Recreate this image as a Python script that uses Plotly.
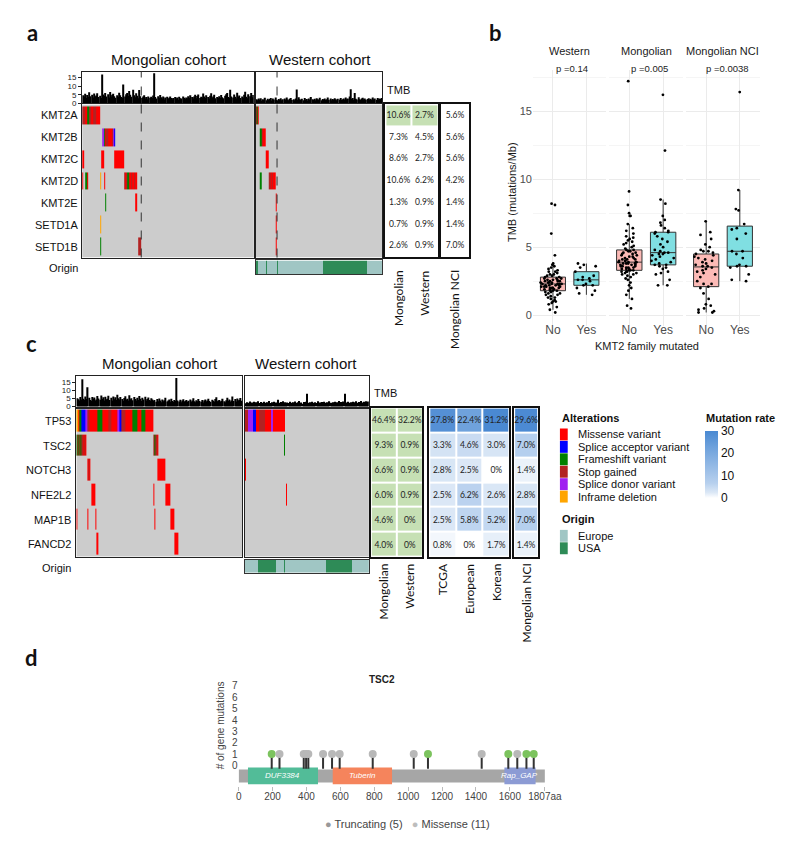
import plotly.graph_objects as go

W, H = 800, 843
def X(p): return p / W
def Y(p): return 1 - p / H

FONT = "Liberation Sans, Arial, sans-serif"
CAL = "Lato, Open Sans, sans-serif"

# ======================= DATA =======================
ALT_NAMES = ["Missense variant", "Splice acceptor variant", "Frameshift variant",
             "Stop gained", "Splice donor variant", "Inframe deletion"]
ALT_COLORS = ["#FF0000", "#0000FF", "#008000", "#B22222", "#A020F0", "#FFA500"]
ORIGIN_NAMES = ["Europe", "USA"]
ORIGIN_COLORS = ["#A0C6C4", "#2E8B57"]
GREY = "#CCCCCC"

# ---- panel a ----
kmt_genes = ["KMT2A", "KMT2B", "KMT2C", "KMT2D", "KMT2E", "SETD1A", "SETD1B"]
n_mong = 151
n_west_a = 113
n_west_c = 115

tmb_mong_a = [4.8,4.1,5.6,3.2,4.9,3.8,6.5,4.2,5.1,3.4,5.8,4.0,4.6,5.9,3.7,4.4,3.1,16.8,5.2,4.3,
              6.1,4.0,5.3,3.5,6.6,4.1,5.0,5.7,4.2,3.3,4.8,3.9,6.2,4.7,3.8,3.2,11.0,4.1,5.4,6.0,
              4.3,7.2,5.1,3.9,8.0,4.8,3.6,5.9,4.5,3.0,7.8,4.2,3.1,4.0,4.7,2.9,3.8,2.4,4.1,3.3,
              3.9,3.1,4.6,17.6,3.8,2.8,4.2,3.2,4.9,3.6,2.9,4.1,2.3,3.4,3.9,2.7,3.3,4.0,3.1,2.5,
              3.2,3.8,2.9,3.4,2.2,3.9,3.0,2.8,4.1,3.3,2.6,3.5,3.0,4.2,3.1,4.8,3.7,2.9,4.0,5.1,
              3.0,4.3,5.2,3.1,3.9,3.4,5.8,4.0,3.2,4.7,3.8,2.9,4.4,5.9,3.3,4.1,5.0,3.0,3.7,3.2,
              4.2,3.1,4.9,3.6,3.0,4.4,5.3,6.0,3.8,3.2,7.9,4.1,3.4,5.2,3.9,2.8,6.2,3.7,4.6,3.1,
              4.0,3.3,5.1,6.8,3.9,3.0,5.4,4.2,6.1,3.6,4.9]
tmb_west_a = [2.4,1.8,2.9,2.1,3.0,1.6,2.5,2.2,3.3,1.9,2.7,2.0,2.6,3.1,1.7,2.8,2.3,3.4,2.0,1.5,
              2.6,2.2,3.0,1.8,2.4,2.9,2.1,3.5,2.3,1.9,2.7,3.2,2.0,2.5,1.8,2.8,8.1,2.2,3.6,2.4,
              2.0,2.7,1.9,3.1,2.3,2.6,1.7,2.9,2.1,3.8,2.4,2.0,2.7,1.8,3.0,2.5,2.2,3.3,1.9,2.6,
              2.3,2.9,2.0,2.5,3.4,2.1,2.8,1.8,2.6,2.2,3.0,2.4,1.9,2.7,2.3,3.2,2.0,2.5,2.8,2.1,
              3.5,2.4,2.9,4.0,8.2,2.6,3.1,2.2,6.0,2.7,2.3,3.6,2.5,2.0,2.8,3.3,2.4,2.9,2.1,2.6,
              3.0,2.3,2.7,2.0,3.4,2.5,2.8,2.2,3.1,2.4,2.9,2.6,3.2]

# alteration runs: (gene, first sample, consecutive alteration codes 1..6)
mong_a_runs = [
    ("KMT2A", 0, [4,4,4,1,3,3,4,4,1,1,4,4,1,1,1,1]),
    ("KMT2B", 18, [5,3,1,4,4,1,1,1,4,5,2]),
    ("KMT2C", 0, [1,1]), ("KMT2C", 17, [1,1]), ("KMT2C", 28, [1,1,1,1,1,1,1,1,1]),
    ("KMT2D", 0, [1]), ("KMT2D", 3, [3,1]), ("KMT2D", 16, [6]), ("KMT2D", 19, [1]),
    ("KMT2D", 37, [4,1,4,3,1,1,4,1,1,4,1]),
    ("KMT2E", 20, [3]), ("KMT2E", 47, [1]),
    ("SETD1A", 16, [6]),
    ("SETD1B", 16, [3]), ("SETD1B", 49, [4,4,4]),
]
west_a_runs = [
    ("KMT2A", 0, [4,3,1]),
    ("KMT2B", 4, [3,4,1,1,1]),
    ("KMT2C", 9, [1,1,1]),
    ("KMT2D", 4, [3]), ("KMT2D", 12, [4,1,4,1,1,1]),
    ("KMT2E", 18, [1]), ("SETD1A", 18, [1]), ("SETD1B", 18, [1]),
]
kmt_cut_mong = 51.5
kmt_cut_west = 18.5
origin_west_a = [("USA",0,1),("Europe",2,8),("USA",9,9),("Europe",10,18),("USA",19,19),
                 ("Europe",20,59),("USA",60,98),("Europe",99,112)]

kmt_mong_pct = [10.6, 7.3, 8.6, 10.6, 1.3, 0.7, 2.6]
kmt_west_pct = [2.7, 4.5, 2.7, 6.2, 0.9, 0.9, 0.9]
kmt_nci_pct = [5.6, 5.6, 5.6, 4.2, 1.4, 1.4, 7.0]
kmt_highlight = [1, 0, 0, 0, 0, 0, 0]

# ---- panel b ----
b_facets = ["Western", "Mongolian", "Mongolian NCI"]
b_pvals = ["p =0.14", "p =0.005", "p =0.0038"]
west_no = [0.2,0.4,0.6,0.8,0.9,1.0,1.0,1.1,1.2,1.3,1.3,1.4,1.5,1.5,1.6,1.6,1.7,1.7,1.8,1.8,
           1.8,1.9,1.9,1.9,2.0,2.0,2.0,2.0,2.1,2.1,2.1,2.1,2.2,2.2,2.2,2.2,2.3,2.3,2.3,2.3,
           2.3,2.4,2.4,2.4,2.4,2.5,2.5,2.5,2.5,2.6,2.6,2.6,2.7,2.7,2.7,2.8,2.8,2.9,2.9,3.0,
           3.0,3.1,3.2,3.2,3.3,3.4,3.5,3.6,3.7,3.8,4.4,6.0,8.1,8.2]
west_yes = [1.5,1.6,1.8,2.0,2.2,2.2,2.3,2.5,2.6,2.6,2.7,2.8,2.9,3.2,3.5,3.6,3.7,3.8]
mong_no = [0.5,0.7,1.2,1.5,1.8,2.0,2.2,2.4,2.6,2.7,2.8,2.9,3.0,3.0,3.1,3.1,3.2,3.2,3.2,3.3,
           3.3,3.3,3.4,3.4,3.4,3.5,3.5,3.5,3.6,3.6,3.6,3.7,3.7,3.7,3.8,3.8,3.8,3.8,3.9,3.9,
           3.9,3.9,4.0,4.0,4.0,4.1,4.1,4.1,4.2,4.2,4.3,4.3,4.4,4.4,4.5,4.5,4.6,4.6,4.7,4.7,
           4.8,4.8,4.9,5.0,5.1,5.2,5.3,5.4,5.5,5.6,5.7,5.8,6.0,6.2,6.4,6.7,7.3,7.3,7.5,8.1,
           9.1,17.2]
mong_yes = [2.2,2.2,2.6,3.0,3.1,3.2,3.4,3.5,3.6,3.7,3.7,3.8,3.9,4.0,4.1,4.2,4.3,4.4,4.5,4.5,
            4.6,4.6,4.7,4.8,5.0,5.2,5.4,5.6,5.8,6.0,6.1,6.1,6.2,6.4,6.6,6.8,7.0,7.3,8.2,8.5,
            12.1,16.2]
nci_no = [0.2,0.2,0.3,0.4,0.5,0.7,0.8,1.2,1.6,2.0,2.1,2.3,2.3,2.5,2.8,3.0,3.1,3.2,3.3,3.4,
          3.5,3.6,3.6,3.7,3.8,3.9,4.0,4.1,4.2,4.3,4.4,4.5,4.6,4.7,4.7,4.8,5.0,5.2,5.6,5.9,
          6.1,6.9]
nci_yes = [2.5,2.6,3.0,3.5,3.6,3.6,3.7,4.2,4.5,4.7,4.7,5.6,6.0,6.3,6.4,6.7,7.7,7.8,9.2,16.4]
b_groups = [(west_no, west_yes), (mong_no, mong_yes), (nci_no, nci_yes)]

# ---- panel c ----
c_genes = ["TP53", "TSC2", "NOTCH3", "NFE2L2", "MAP1B", "FANCD2"]
tmb_mong_c = [5.2,4.6,3.8,6.1,4.4,17.2,5.0,4.2,6.4,4.8,12.1,5.5,4.1,3.6,6.0,4.9,5.7,3.9,4.5,6.6,
              5.1,4.3,7.0,4.7,5.8,3.9,6.2,4.4,5.0,6.8,4.2,5.5,3.8,6.3,4.6,5.9,4.1,7.4,5.2,4.5,
              6.0,4.8,3.7,5.4,6.5,4.3,5.0,3.9,7.2,4.6,5.3,4.0,6.1,4.7,3.8,5.6,4.2,6.7,4.9,3.6,
              5.5,4.4,6.2,3.9,4.8,5.7,4.1,3.7,5.2,4.5,
              3.6,4.2,3.1,4.8,3.4,5.1,3.9,2.8,4.4,3.3,4.0,5.6,3.2,3.8,4.5,3.0,4.9,3.5,2.9,4.1,
              3.6,18.0,3.9,3.2,4.3,2.7,3.8,4.6,3.1,3.5,4.2,2.9,3.7,4.4,3.0,3.9,5.2,3.4,2.8,4.0,
              3.3,4.7,3.6,3.1,4.1,2.6,3.8,4.5,3.2,3.9,5.0,3.5,2.9,4.3,3.7,3.1,4.8,5.9,3.4,3.8,
              4.2,3.0,3.6,4.9,3.3,2.8,4.0,5.6,3.5,4.4,3.1,3.9,6.3,3.6,4.7,3.2,5.1,3.8,4.3,5.4,3.7]
tmb_west_c = [2.1,2.8,1.7,2.5,3.2,2.0,2.6,1.9,3.0,2.3,2.7,1.8,3.4,2.2,2.9,2.0,2.5,3.1,1.9,2.4,
              2.8,2.1,3.6,2.3,1.8,2.7,3.0,2.2,2.6,1.9,4.3,2.4,2.0,2.9,2.5,3.3,2.1,2.7,1.8,2.6,
              2.3,3.0,2.0,2.5,2.8,1.9,3.2,2.4,2.1,2.7,3.5,2.2,2.6,1.8,2.9,2.3,3.1,8.0,2.4,2.0,
              2.7,2.2,3.0,2.5,1.9,2.8,2.3,3.3,2.0,2.6,2.4,2.9,2.1,3.1,2.5,1.8,2.7,2.2,3.4,2.4,
              2.0,2.8,2.5,3.0,2.2,2.7,1.9,3.6,2.4,2.9,2.1,3.2,8.1,2.6,2.3,3.0,2.5,2.0,2.8,2.4,
              3.1,2.2,2.7,3.3,2.5,2.9,2.1,3.5,2.6,2.3,3.0,2.8,3.4,2.4,3.2]
mong_c_runs = [
    ("TP53", 0, [6,6,1,3,3,2,2,2,5,5,4,4,1,1,1,1,1,1,1,3,3,3,3,3,1,1,1,1,1,4,4,4,1,1,1,
                 1,1,5,5,2,2,4,4,4,4,1,1,1,1,1,1,3,3,3,3,3,1,1,1,3,3,3,3,1,1,1,1,1,1,1]),
    ("TSC2", 0, [3,4,3,4,3,4,1,4,1]), ("TSC2", 70, [4,3,4,4,1]),
    ("NOTCH3", 10, [1,4,1]), ("NOTCH3", 74, [1,1,1,1,1,1,1]),
    ("NFE2L2", 14, [1,1,1]), ("NFE2L2", 70, [1]), ("NFE2L2", 81, [1,1,1,1,1]),
    ("MAP1B", 0, [1]), ("MAP1B", 10, [1]), ("MAP1B", 17, [1]), ("MAP1B", 71, [1]),
    ("MAP1B", 86, [1,1,1]),
    ("FANCD2", 18, [1,1]), ("FANCD2", 89, [1,1,1,1]),
]
west_c_runs = [
    ("TP53", 0, [4,4,4,5,5,5,5,2,2,2,1,1,1,4,4,4,4,4,4,1,1,1,1,1,5,5,1,1,1,1,1,1,1,1,1,1,1]),
    ("TSC2", 36, [3]), ("NOTCH3", 0, [1]), ("NFE2L2", 38, [1]),
]
origin_west_c = [("Europe",0,11),("USA",12,28),("Europe",29,35),("USA",36,36),
                 ("Europe",37,74),("USA",75,98),("Europe",99,114)]

c_mong_pct = [46.4, 9.3, 6.6, 6.0, 4.6, 4.0]
c_west_pct = [32.2, 0.9, 0.9, 0.9, 0.0, 0.0]
c_tcga_pct = [27.8, 3.3, 2.8, 2.5, 2.5, 0.8]
c_euro_pct = [22.4, 4.6, 2.5, 6.2, 5.8, 0.0]
c_korean_pct = [31.2, 3.0, 0.0, 2.6, 5.2, 1.7]
c_nci_pct = [29.6, 7.0, 1.4, 2.8, 7.0, 1.4]
c_highlight = [1, 1, 1, 1, 1, 1]

# ---- panel d ----
tsc2_len = 1807
tsc2_domains = [("DUF3384", 55, 468, "#52BC98"), ("Tuberin", 555, 905, "#F5845C"),
                ("Rap_GAP", 1568, 1752, "#8C9BD4")]
tsc2_pos = [195, 241, 384, 398, 411, 498, 551, 596, 791, 1033, 1117, 1434, 1591, 1644, 1698, 1741]
tsc2_type = ["T", "M", "M", "M", "M", "M", "M", "M", "M", "M", "T", "M", "T", "M", "T", "T"]
tsc2_count = [1, 1, 1, 1, 1, 1, 1, 1, 1, 1, 1, 1, 1, 1, 1, 1]
tsc2_xticks = [0, 200, 400, 600, 800, 1000, 1200, 1400, 1600, 1807]

# ======================= BUILD =======================
fig = go.Figure()
L = {}
shapes = []
anns = []

def axname(i, a): return f"{a}axis" if i == 1 else f"{a}axis{i}"
def ref(i, a): return a if i == 1 else f"{a}{i}"

def add_axes(i, xpx, ypx, xkw=None, ykw=None):
    base = dict(showgrid=False, zeroline=False, showticklabels=False, ticks="", fixedrange=True)
    xa = dict(base); xa.update(domain=[X(xpx[0]), X(xpx[1])], anchor=ref(i, 'y'))
    ya = dict(base); ya.update(domain=[Y(ypx[1]), Y(ypx[0])], anchor=ref(i, 'x'))
    if xkw: xa.update(xkw)
    if ykw: ya.update(ykw)
    L[axname(i, 'x')] = xa
    L[axname(i, 'y')] = ya

def ann(text, x, y, size=11, xanchor="center", yanchor="middle", color="#111",
        family=FONT, angle=0):
    anns.append(dict(text=text, x=X(x), y=Y(y), xref="paper", yref="paper",
                     xanchor=xanchor, yanchor=yanchor, showarrow=False, textangle=angle,
                     font=dict(size=size, color=color, family=family)))

frame = dict(showline=True, mirror=True, linecolor="#222", linewidth=1.2)

def tmb_bars(i, vals, xpx, ypx, ymax, ticks):
    n = len(vals)
    fig.add_trace(go.Bar(x=list(range(n)), y=vals, width=1, marker=dict(color="black", line=dict(width=0)),
                         xaxis=ref(i, 'x'), yaxis=ref(i, 'y'), hoverinfo="skip"))
    yk = dict(frame); yk.update(range=[0, ymax])
    if ticks:
        yk.update(tickvals=[0, 5, 10, 15], showticklabels=True, ticks="outside", ticklen=3,
                  tickcolor="#222", tickfont=dict(size=8, color="#222", family=FONT))
    xk = dict(frame); xk.update(range=[-0.5, n - 0.5])
    add_axes(i, xpx, ypx, xk, yk)

disc = []
for k, c in enumerate(ALT_COLORS):
    disc += [[k / 6, c], [(k + 1) / 6, c]]

def oncoprint(i, genes, n, runs, xpx, ypx, gap):
    bg = [[0] * n for _ in genes]
    z = [[None] * n for _ in genes]
    for g, start, codes in runs:
        r = genes.index(g)
        for k, c in enumerate(codes):
            z[r][start + k] = c
    common = dict(x=list(range(n)), y=list(range(len(genes))), showscale=False,
                  xaxis=ref(i, 'x'), yaxis=ref(i, 'y'), hoverinfo="skip")
    fig.add_trace(go.Heatmap(z=bg, colorscale=[[0, GREY], [1, GREY]], **common))
    fig.add_trace(go.Heatmap(z=z, colorscale=disc, zmin=0.5, zmax=6.5, ygap=gap, **common))
    xk = dict(frame); xk.update(range=[-0.5, n - 0.5])
    yk = dict(frame); yk.update(range=[len(genes) - 0.5, -0.5])
    add_axes(i, xpx, ypx, xk, yk)

def origin_bar(i, n, segs, xpx, ypx):
    z = [[None] * n]
    for name, a, b in segs:
        for s in range(a, b + 1):
            z[0][s] = ORIGIN_NAMES.index(name)
    cs = [[0, ORIGIN_COLORS[0]], [0.5, ORIGIN_COLORS[0]], [0.5, ORIGIN_COLORS[1]], [1, ORIGIN_COLORS[1]]]
    fig.add_trace(go.Heatmap(z=z, x=list(range(n)), y=[0], colorscale=cs, zmin=0, zmax=1,
                             showscale=False, xaxis=ref(i, 'x'), yaxis=ref(i, 'y'), hoverinfo="skip"))
    xk = dict(frame); xk.update(range=[-0.5, n - 0.5], linecolor="#333", linewidth=1)
    yk = dict(frame); yk.update(range=[-0.5, 0.5], linecolor="#333", linewidth=1)
    add_axes(i, xpx, ypx, xk, yk)

def fmt(v):
    return "0%" if v == 0 else f"{v:.1f}%"

def table(i, cols, xpx, ypx, zcols=None, colorscale=None, zmin=0, zmax=1, colorbar=None):
    nr = len(cols[0]); nc = len(cols)
    zc = zcols if zcols is not None else cols
    z = [[zc[c][r] for c in range(nc)] for r in range(nr)]
    text = [[fmt(cols[c][r]) for c in range(nc)] for r in range(nr)]
    fig.add_trace(go.Heatmap(z=z, x=list(range(nc)), y=list(range(nr)), text=text,
                             texttemplate="%{text}", textfont=dict(size=8.5, color="#222", family=CAL),
                             colorscale=colorscale, zmin=zmin, zmax=zmax, xgap=2, ygap=2,
                             showscale=colorbar is not None, colorbar=colorbar,
                             xaxis=ref(i, 'x'), yaxis=ref(i, 'y'), hoverinfo="skip"))
    fr = dict(showline=True, mirror=True, linecolor="#111", linewidth=2)
    xk = dict(fr); xk.update(range=[-0.5, nc - 0.5])
    yk = dict(fr); yk.update(range=[nr - 0.5, -0.5])
    add_axes(i, xpx, ypx, xk, yk)

GREEN_CS = [[0, "#FFFFFF"], [1, "#C6E0B4"]]
BLUE_CS = [[0, "#FFFFFF"], [0.08, "#DCE8F6"], [0.22, "#B7D0EE"], [0.75, "#6FA2DC"], [1, "#4A89D2"]]

# ---------------- panel a ----------------
tmb_bars(1, tmb_mong_a, (73, 249), (64, 96), 18.5, True)
tmb_bars(2, tmb_west_a, (251, 381), (64, 96), 18.5, False)
oncoprint(3, kmt_genes, n_mong, mong_a_runs, (73, 249), (97, 251), 4)
oncoprint(4, kmt_genes, n_west_a, west_a_runs, (251, 381), (97, 251), 4)
origin_bar(5, n_west_a, origin_west_a, (251, 381), (254, 268))
table(6, [kmt_mong_pct, kmt_west_pct], (384, 438), (97, 250),
      zcols=[kmt_highlight, kmt_highlight], colorscale=GREEN_CS)
table(7, [kmt_nci_pct], (441, 470), (97, 250), zcols=[[0] * 7], colorscale=GREEN_CS)

for xr, cut in (("x3", kmt_cut_mong), ("x4", kmt_cut_west)):
    shapes.append(dict(type="line", xref=xr, yref="paper", x0=cut, x1=cut, y0=Y(251), y1=Y(64),
                       line=dict(color="#333", width=1, dash="dash")))

ann("<b>a</b>", 22, 25, size=22, family=CAL)
ann("Mongolian cohort", 162, 52, size=15)
ann("Western cohort", 317, 52, size=15)
ann("TMB", 384, 82, size=11, xanchor="left")
rh = (251 - 97) / len(kmt_genes)
for k, g in enumerate(kmt_genes):
    ann(g, 71, 97 + rh * (k + 0.5), size=11, xanchor="right")
ann("Origin", 71, 262, size=11, xanchor="right")
for lab, xc in (("Mongolian", 397.5), ("Western", 424.5), ("Mongolian NCI", 455.5)):
    ann(lab, xc, 262, size=12, family=CAL, angle=-90, yanchor="top")

# ---------------- panel b ----------------
b_x = [(535.3, 610.7), (613.3, 689.7), (692.3, 768.2)]
for f, (name, pv, (no, yes), xpx) in enumerate(zip(b_facets, b_pvals, b_groups, b_x)):
    i = 8 + f
    for pos, vals, col in ((1, no, "#FCBAB6"), (2, yes, "#80DFE2")):
        fig.add_trace(go.Box(y=vals, x=[pos] * len(vals), width=0.75, fillcolor=col,
                             line=dict(color="#333", width=1), whiskerwidth=0,
                             boxpoints="all", jitter=1.0, pointpos=0,
                             marker=dict(color="black", size=2.8),
                             xaxis=ref(i, 'x'), yaxis=ref(i, 'y'), hoverinfo="skip"))
    xk = dict(range=[0.4, 2.6], tickvals=[1, 2], ticktext=["No", "Yes"], showticklabels=True,
              tickfont=dict(size=12, color="#4D4D4D", family=FONT), showgrid=True,
              gridcolor="#EBEBEB", gridwidth=1, ticklabelstandoff=-5)
    yk = dict(range=[-0.8, 18.05], tickvals=[0, 5, 10, 15], showgrid=True, gridcolor="#EBEBEB",
              gridwidth=1, showticklabels=(f == 0),
              tickfont=dict(size=11, color="#4D4D4D", family=FONT),
              minor=dict(tickvals=[2.5, 7.5, 12.5, 17.5], showgrid=True, gridcolor="#F5F5F5"))
    add_axes(i, xpx, (62, 320), xk, yk)
    ann(name, (xpx[0] + xpx[1]) / 2, 43, size=11, color="#1A1A1A")
ann(b_pvals[0], 575, 61, size=9.5, color="#222")
ann(b_pvals[1], 655, 61, size=9.5, color="#222")
ann(b_pvals[2], 735, 61, size=9.5, color="#222")
ann("<b>b</b>", 497, 25, size=22, family=CAL)
ann("TMB (mutations/Mb)", 514, 185, size=11, angle=-90, color="#1A1A1A")
ann("KMT2 family mutated", 652, 340, size=11, color="#1A1A1A")

# ---------------- panel c ----------------
tmb_bars(11, tmb_mong_c, (67, 237), (370, 401), 19.3, True)
tmb_bars(12, tmb_west_c, (240, 367), (370, 401), 19.3, False)
oncoprint(13, c_genes, n_mong, mong_c_runs, (67, 237), (403, 552), 3)
oncoprint(14, c_genes, n_west_c, west_c_runs, (240, 367), (403, 552), 3)
origin_bar(15, n_west_c, origin_west_c, (240, 367), (555, 568))
table(16, [c_mong_pct, c_west_pct], (369, 422), (402, 552),
      zcols=[c_highlight, c_highlight], colorscale=GREEN_CS)
table(17, [c_tcga_pct, c_euro_pct, c_korean_pct], (429, 511), (402, 552),
      colorscale=BLUE_CS, zmin=0, zmax=30,
      colorbar=dict(x=X(712), xanchor="left", y=Y(459), yanchor="middle", lenmode="pixels",
                    len=67, thickness=13, outlinewidth=0, ticks="", xpad=0, ypad=0,
                    tickvals=[0, 10, 20, 30], tickfont=dict(size=12, color="#111", family=FONT)))
table(18, [c_nci_pct], (516, 541), (402, 552), colorscale=BLUE_CS, zmin=0, zmax=30)

ann("<b>c</b>", 21, 338, size=22, family=CAL)
ann("Mongolian cohort", 153, 358, size=15)
ann("Western cohort", 303, 358, size=15)
ann("TMB", 370, 387, size=11, xanchor="left")
rh = (552 - 403) / len(c_genes)
for k, g in enumerate(c_genes):
    ann(g, 64, 403 + rh * (k + 0.5), size=11, xanchor="right")
ann("Origin", 64, 563, size=11, xanchor="right")
for lab, xc in (("Mongolian", 382.3), ("Western", 408.8), ("TCGA", 442.7), ("European", 470),
                ("Korean", 497.3), ("Mongolian NCI", 528.5)):
    ann(lab, xc, 557, size=12, family=CAL, angle=-90, yanchor="top")

# legends (c)
ann("<b>Alterations</b>", 563, 412, size=11, xanchor="left")
for k, (nm, col) in enumerate(zip(ALT_NAMES, ALT_COLORS)):
    yc = 429 + 12.5 * k
    shapes.append(dict(type="rect", xref="paper", yref="paper", x0=X(563), x1=X(571),
                       y0=Y(yc + 6), y1=Y(yc - 6), fillcolor=col, line=dict(width=0)))
    ann(nm, 579, yc, size=11, xanchor="left")
ann("<b>Origin</b>", 563, 514, size=11, xanchor="left")
for k, (nm, col) in enumerate(zip(ORIGIN_NAMES, ORIGIN_COLORS)):
    yc = 531 + 12.5 * k
    shapes.append(dict(type="rect", xref="paper", yref="paper", x0=X(563), x1=X(571),
                       y0=Y(yc + 6), y1=Y(yc - 6), fillcolor=col, line=dict(width=0)))
    ann(nm, 579, yc, size=11, xanchor="left")
ann("<b>Mutation rate</b>", 711, 412, size=11, xanchor="left")

# ---------------- panel d ----------------
i = 19
sx, sy = [], []
for p, c in zip(tsc2_pos, tsc2_count):
    sx += [p, p, None]
    sy += [-0.3, c - 0.15, None]
xk = dict(range=[0, tsc2_len], tickvals=tsc2_xticks,
          ticktext=[str(v) for v in tsc2_xticks[:-1]] + [f"{tsc2_len}aa"],
          showticklabels=True, ticks="outside", ticklen=4, tickcolor="#BBBBBB",
          tickfont=dict(size=10, color="#444", family=FONT), ticklabelstandoff=-3)
yk = dict(range=[-1.84, 7.61], tickvals=list(range(8)), showticklabels=True,
          tickfont=dict(size=10, color="#444", family=FONT))
add_axes(i, (233.5, 547.6), (675, 783), xk, yk)
shapes.append(dict(type="rect", xref="x19", yref="y19", x0=0, x1=tsc2_len, y0=-1.49, y1=-0.35,
                   fillcolor="#A6A6A6", line=dict(width=0), layer="below"))
for nm, x0, x1, col in tsc2_domains:
    shapes.append(dict(type="rect", xref="x19", yref="y19", x0=x0, x1=x1, y0=-1.66, y1=-0.17,
                       fillcolor=col, line=dict(width=0), layer="below"))
    anns.append(dict(text=f"<i>{nm}</i>", x=(x0 + x1) / 2, y=-0.92, xref="x19", yref="y19",
                     showarrow=False, font=dict(size=8, color="white", family=FONT)))
fig.add_trace(go.Scatter(x=sx, y=sy, mode="lines", line=dict(color="#333", width=2),
                         xaxis="x19", yaxis="y19", hoverinfo="skip"))
fig.add_trace(go.Scatter(x=tsc2_pos, y=tsc2_count, mode="markers",
                         marker=dict(size=8, color=["#7CC35E" if t == "T" else "#B8B8B8" for t in tsc2_type],
                                     line=dict(width=0)),
                         xaxis="x19", yaxis="y19", hoverinfo="skip"))
ann("<b>d</b>", 21, 653, size=22, family=CAL)
ann("<b>TSC2</b>", 381, 676, size=10, color="#222")
ann("# of gene mutations", 215, 722, size=10, angle=-90, color="#444")
n_trunc = tsc2_type.count("T"); n_mis = tsc2_type.count("M")
ann(f"<span style='color:#999999'>●</span> Truncating ({n_trunc})   "
    f"<span style='color:#BDBDBD'>●</span> Missense ({n_mis})", 407, 821, size=11, color="#444")

fig.update_layout(width=W, height=H, margin=dict(l=0, r=0, t=0, b=0),
                  paper_bgcolor="white", plot_bgcolor="white", showlegend=False,
                  font=dict(family=FONT), annotations=anns, shapes=shapes, **L)
fig.write_html("out.html")
